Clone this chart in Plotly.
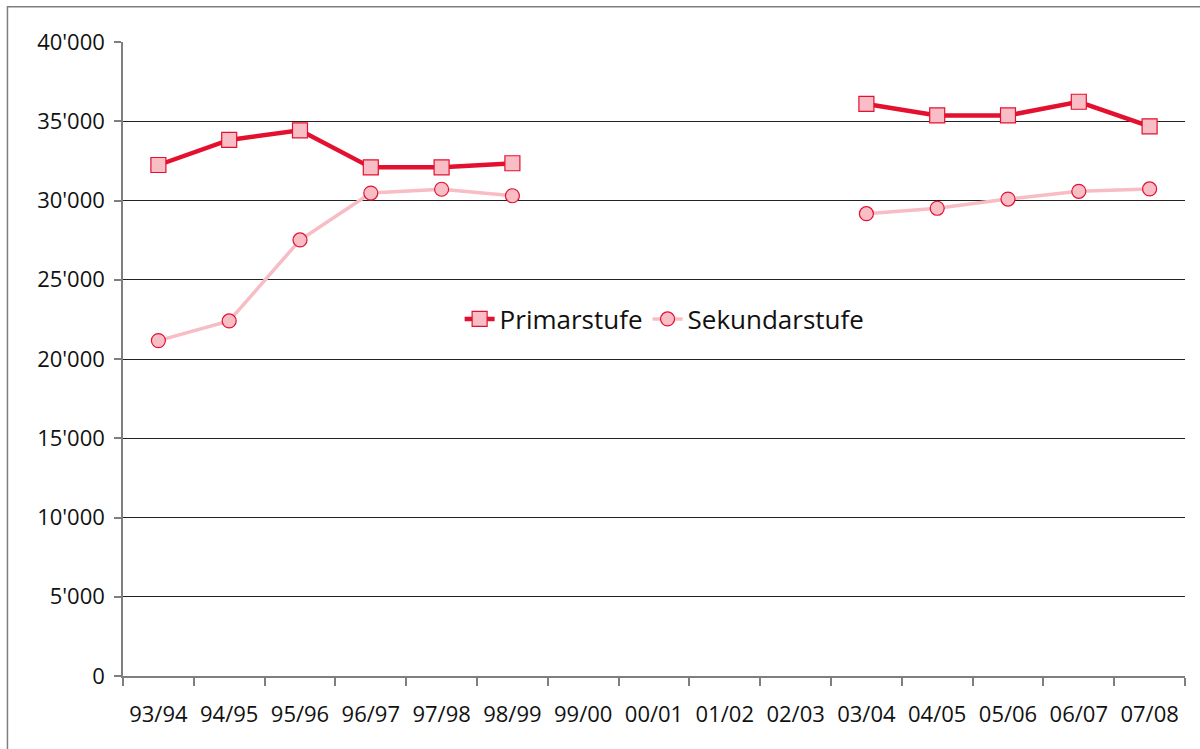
import plotly.graph_objects as go

## data

jahre = ['93/94', '94/95', '95/96', '96/97', '97/98', '98/99', '99/00', '00/01',
         '01/02', '02/03', '03/04', '04/05', '05/06', '06/07', '07/08']

primarstufe = [32240, 33820, 34430, 32090, 32090, 32350, None, None,
               None, None, 36090, 35370, 35370, 36230, 34680]

sekundarstufe = [21160, 22400, 27510, 30470, 30710, 30300, None, None,
                 None, None, 29170, 29510, 30090, 30580, 30730]

y_ticks = [0, 5000, 10000, 15000, 20000, 25000, 30000, 35000, 40000]
y_labels = ['0', "5'000", "10'000", "15'000", "20'000", "25'000", "30'000", "35'000", "40'000"]

# colours
rot = '#E3112F'
rosa = '#F7BCC4'
fuellung = '#F9BDC6'

font = 'Open Sans, DejaVu Sans, sans-serif'

fig = go.Figure()

fig.add_trace(go.Scatter(
  x=jahre, y=primarstufe, name='Primarstufe',
  mode='lines+markers',
  line={'color': rot, 'width': 4.5},
  marker={'symbol': 'square', 'size': 15, 'color': fuellung,
          'line': {'color': rot, 'width': 1.2}},
  connectgaps=False
))

fig.add_trace(go.Scatter(
  x=jahre, y=sekundarstufe, name='Sekundarstufe',
  mode='lines+markers',
  line={'color': rosa, 'width': 3.5},
  marker={'symbol': 'circle', 'size': 14, 'color': fuellung,
          'line': {'color': rot, 'width': 1.2}},
  connectgaps=False
))

# plot area: x 123..1185, y 42.5..676 px
fig.update_layout(
  width=1200, height=749,
  margin={'l': 123, 'r': 15, 't': 42, 'b': 73, 'pad': 0},
  paper_bgcolor='white', plot_bgcolor='white',
  font={'family': font, 'size': 22, 'color': '#111111'},
  showlegend=True,
  legend={
    'orientation': 'h', 'x': 0.51, 'y': 0.563,
    'xanchor': 'center', 'yanchor': 'middle',
    'font': {'size': 26}, 'bgcolor': 'rgba(0,0,0,0)',
  },
  xaxis={
    'type': 'category',
    'showgrid': False,
    'showline': True, 'linecolor': '#7f7f7f', 'linewidth': 1.5,
    'ticks': 'outside', 'tickson': 'boundaries',
    'ticklen': 8, 'tickcolor': '#7f7f7f', 'tickwidth': 1.5,
    'tickfont': {'size': 22},
    'ticklabelstandoff': 18,
    'range': [-0.5, 14.5],
    'fixedrange': True
  },
  yaxis={
    'range': [0, 40000],
    'tickvals': y_ticks, 'ticktext': y_labels,
    'showgrid': True, 'gridcolor': '#222222', 'gridwidth': 1,
    'showline': True, 'linecolor': '#7f7f7f', 'linewidth': 1.5,
    'ticks': 'outside', 'ticklen': 7, 'tickcolor': '#7f7f7f', 'tickwidth': 1.5,
    'tickfont': {'size': 22},
    'ticklabelstandoff': 5,
    'zeroline': False,
    'fixedrange': True
  },
  shapes=[{
    # outer frame of the chart (left and top edges visible)
    'type': 'rect', 'xref': 'paper', 'yref': 'paper',
    'x0': -0.1088, 'x1': 1.05, 'y0': -0.2, 'y1': 1.0556,
    'line': {'color': '#7f7f7f', 'width': 1.5},
    'layer': 'below'
  }]
)

# the page body has an 8px margin by default; drop it so the figure sits at 0,0
fig.write_html('out.html', config={'displayModeBar': False},
               post_script="document.body.style.margin='0';")
